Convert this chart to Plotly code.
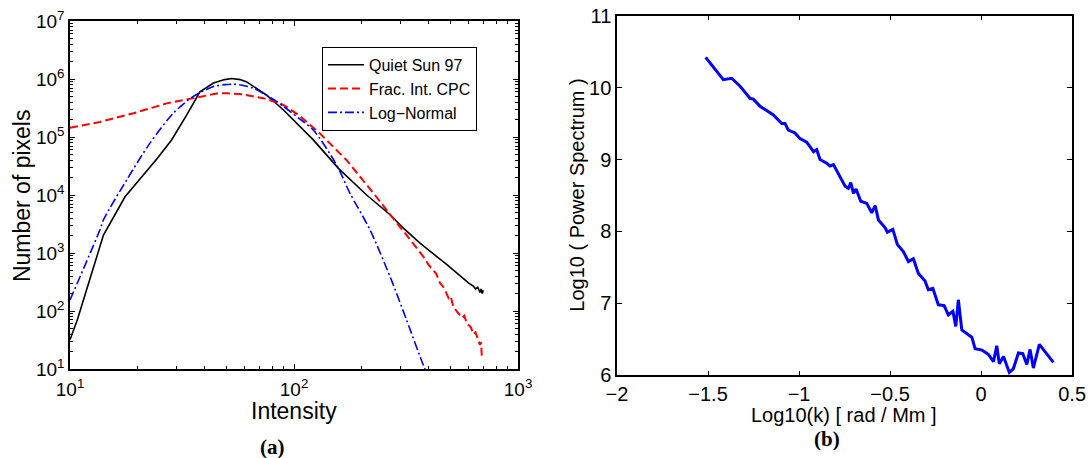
import plotly.graph_objects as go

# ---------------- Panel (a): intensity histogram (log-log) ----------------
qs_intensity = [10.0, 10.8, 14.1, 17.6, 24.4, 28.4, 33.2, 38.0, 43.7, 49.0, 52.7, 57.5,
                61.5, 75.5, 89.5, 104.5, 121.9, 157.8, 210.9, 268.5, 307.6, 365.1, 398.1,
                436.5, 478.6, 524.8, 575.4, 602.6, 631.0, 645.7, 660.7, 676.1, 684.0,
                692.0, 700.0]
qs_counts = [32, 72, 2040, 9330, 41700, 89100, 240000, 603000, 851000, 977000, 1023000,
             977000, 891000, 525000, 295000, 162000, 89100, 28800, 10000, 4570, 2690,
             1480, 1120, 851, 646, 479, 347, 302, 269, 240, 257, 209, 240, 200, 229]

cpc_intensity = [10.0, 13.6, 19.2, 27.0, 35.5, 45.2, 50.1, 57.4, 72.9, 86.6, 92.7, 104.7,
                 130.6, 171.8, 226.5, 251.2, 281.8, 316.2, 346.7, 377.6, 398.1, 416.9,
                 431.5, 448.7, 467.7, 489.8, 501.2, 514.0, 537.0, 562.3, 575.4, 590.2,
                 616.6, 631.0, 645.7, 660.7, 676.1, 684.0, 688.7]
cpc_counts = [145000, 182000, 257000, 380000, 468000, 562000, 569000, 550000, 468000,
              380000, 331000, 240000, 115000, 39800, 10700, 6310, 3630, 2090, 1320, 871,
              631, 501, 437, 302, 251, 166, 178, 117, 95, 76, 83, 62, 52, 40, 43, 32, 26,
              29, 17]

ln_intensity = [10.0, 13.6, 14.1, 17.9, 22.7, 28.9, 35.5, 43.7, 49.0, 53.6, 58.0, 65.8,
                83.8, 104.5, 121.9, 154.9, 177.8, 218.3, 268.5, 318.4, 377.6, 400.0]
ln_counts = [155, 2510, 3720, 18200, 77600, 257000, 501000, 741000, 800000, 813000,
             790000, 692000, 407000, 214000, 132000, 33000, 10700, 2510, 389, 69, 11.7, 7]

# ---------------- Panel (b): power spectrum ----------------
log_k = [-1.513, -1.416, -1.370, -1.324, -1.269, -1.251, -1.214, -1.159, -1.141, -1.095,
         -1.077, -1.059, -1.022, -0.995, -0.958, -0.940, -0.921, -0.903, -0.885, -0.848,
         -0.830, -0.811, -0.784, -0.747, -0.729, -0.716, -0.701, -0.687, -0.661, -0.628,
         -0.601, -0.582, -0.564, -0.527, -0.515, -0.485, -0.460, -0.427, -0.399, -0.372,
         -0.345, -0.308, -0.290, -0.265, -0.235, -0.203, -0.180, -0.155, -0.139, -0.125,
         -0.106, -0.079, -0.051, -0.033, 0.004, 0.040, 0.068, 0.086, 0.100, 0.123, 0.155,
         0.177, 0.205, 0.229, 0.251, 0.269, 0.287, 0.320, 0.397]
log_power = [10.42, 10.11, 10.13, 10.02, 9.85, 9.84, 9.74, 9.65, 9.62, 9.50,
             9.50, 9.41, 9.37, 9.29, 9.24, 9.18, 9.11, 9.14, 9.00, 8.95,
             8.91, 8.93, 8.81, 8.63, 8.60, 8.68, 8.53, 8.59, 8.42, 8.39,
             8.26, 8.36, 8.16, 8.05, 7.99, 8.03, 7.82, 7.72, 7.58, 7.62,
             7.42, 7.31, 7.19, 7.21, 6.98, 6.97, 6.84, 6.89, 6.68, 7.05,
             6.63, 6.58, 6.53, 6.37, 6.35, 6.29, 6.19, 6.41, 6.16, 6.26, 6.04,
             6.09, 6.31, 6.30, 6.15, 6.36, 6.10, 6.43, 6.18]

legend_names = ["Quiet Sun 97", "Frac. Int. CPC", "Log\u2212Normal"]
log_ticks = [10, 100, 1000]
log_tick_text = ["10<sup>1</sup>", "10<sup>2</sup>", "10<sup>3</sup>"]
count_ticks = [10, 100, 1000, 10000, 100000, 1000000, 10000000]
count_tick_text = ["10<sup>%d</sup>" % i for i in range(1, 8)]
x_minor = [m * d for d in (10, 100) for m in range(2, 10)]
y_minor = [m * 10 ** p for p in range(1, 7) for m in range(2, 10)]

FONT = "Liberation Sans, Arial, Helvetica, sans-serif"

fig = go.Figure()
fig.add_trace(go.Scatter(x=qs_intensity, y=qs_counts, mode="lines", name=legend_names[0],
                         line=dict(color="black", width=1.6), xaxis="x", yaxis="y"))
fig.add_trace(go.Scatter(x=cpc_intensity, y=cpc_counts, mode="lines", name=legend_names[1],
                         line=dict(color="#ff0000", width=2, dash="8px,4px"), xaxis="x", yaxis="y"))
fig.add_trace(go.Scatter(x=ln_intensity, y=ln_counts, mode="lines", name=legend_names[2],
                         line=dict(color="#0000ff", width=1.6, dash="9px,3px,2px,3px",
                                   shape="spline", smoothing=0.8),
                         xaxis="x", yaxis="y"))
fig.add_trace(go.Scatter(x=log_k, y=log_power, mode="lines", showlegend=False,
                         line=dict(color="#0000ff", width=3), xaxis="x2", yaxis="y2"))

axis_common = dict(showgrid=False, zeroline=False, showline=True, linecolor="black",
                   linewidth=1.5, mirror="allticks", ticks="inside", tickcolor="black",
                   automargin=False)

fig.update_layout(
    width=1089, height=458,
    margin=dict(l=0, r=0, t=0, b=0, autoexpand=False),
    paper_bgcolor="white", plot_bgcolor="white",
    font=dict(family=FONT, color="black"),
    xaxis=dict(type="log", domain=[0.0643, 0.4757], range=[1, 3], anchor="y",
               tickvals=log_ticks, ticktext=log_tick_text, ticklen=5,
               tickfont=dict(family=FONT, size=19, color="black"), ticklabelstandoff=2,
               minor=dict(ticks="inside", ticklen=3, tickcolor="black", showgrid=False,
                          tickmode="array", tickvals=x_minor),
               **axis_common),
    yaxis=dict(type="log", domain=[0.1943, 0.9541], range=[1, 7], anchor="x",
               tickvals=count_ticks, ticktext=count_tick_text, ticklen=5,
               tickfont=dict(family=FONT, size=19, color="black"),
               minor=dict(ticks="inside", ticklen=3, tickcolor="black", showgrid=False,
                          tickmode="array", tickvals=y_minor),
               **axis_common),
    xaxis2=dict(domain=[0.5666, 0.9845], range=[-2, 0.5], anchor="y2",
                tickvals=[-2, -1.5, -1, -0.5, 0, 0.5], ticklen=5, ticklabelstandoff=0,
                tickfont=dict(family=FONT, size=20, color="black"), **axis_common),
    yaxis2=dict(domain=[0.1806, 0.9657], range=[6, 11], anchor="x2",
                tickvals=[6, 7, 8, 9, 10, 11], ticklen=5,
                tickfont=dict(family=FONT, size=20, color="black"), **axis_common),
    legend=dict(x=0.2955, y=0.898, xanchor="left", yanchor="top",
                bgcolor="white", bordercolor="black", borderwidth=1.2,
                font=dict(family=FONT, size=16, color="black"),
                itemwidth=36, tracegroupgap=0),
    showlegend=True,
)

annots = [
    dict(text="Intensity", x=0.27, y=0.102, font=dict(size=23)),
    dict(text="Number of pixels", x=0.0202, y=0.574, textangle=-90, font=dict(size=23)),
    dict(text="Log10(k) [ rad / Mm ]", x=0.775, y=0.094, font=dict(size=20)),
    dict(text="Log10 ( Power Spectrum )", x=0.5295, y=0.574, textangle=-90, font=dict(size=20)),
    dict(text="<b>(a)</b>", x=0.25, y=0.025, font=dict(size=21, family="Liberation Serif, Times New Roman, serif")),
    dict(text="<b>(b)</b>", x=0.759, y=0.042, font=dict(size=21, family="Liberation Serif, Times New Roman, serif")),
]
for a in annots:
    f = dict(family=FONT, color="black")
    f.update(a.pop("font"))
    fig.add_annotation(xref="paper", yref="paper", showarrow=False,
                       xanchor="center", yanchor="middle", font=f, **a)

fig.write_html("out.html")
